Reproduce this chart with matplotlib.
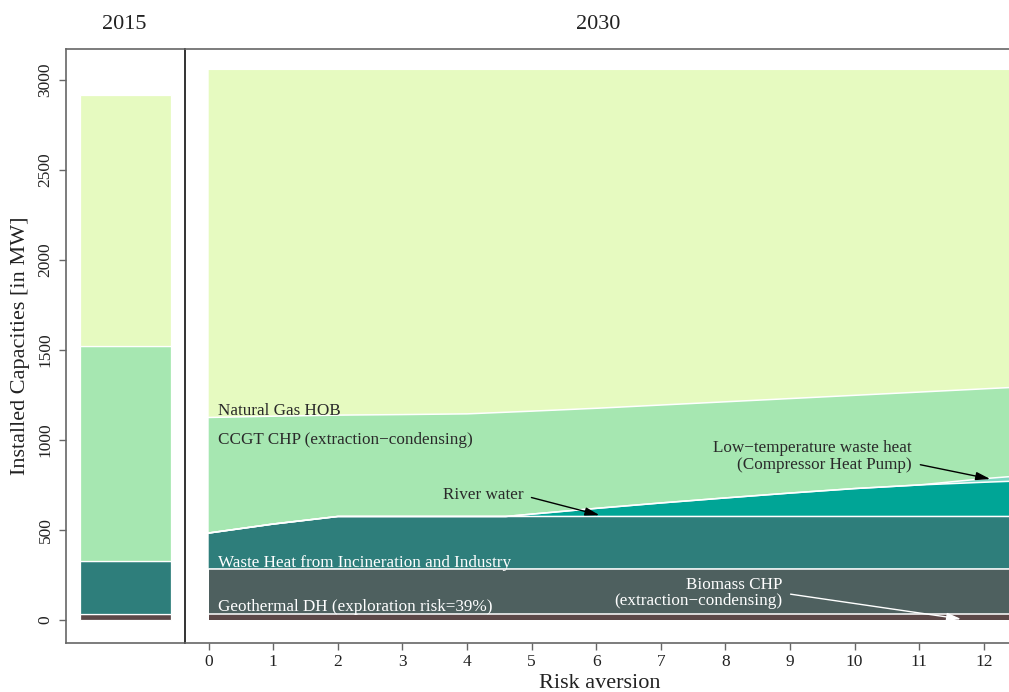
import numpy as np
import matplotlib.pyplot as plt

plt.rcParams['font.family'] = ['Liberation Serif', 'DejaVu Serif']

# Data (MW)
risk = [0, 1, 2, 3, 4, 4.6, 5, 6, 7, 8, 9, 10, 11, 12, 13]
biomass = [32] * 15
geothermal = [253] * 15
wasteheat = [198, 248, 290, 290, 290, 290, 290, 290, 290, 290, 290, 290, 290, 290, 290]
river = [0, 0, 0, 0, 0, 0, 13, 45, 75, 103, 130, 155, 175, 190, 203]
lowtemp = [0, 0, 0, 0, 0, 0, 0, 0, 0, 0, 0, 0, 0, 20, 35]
ccgt = [642, 599, 563, 566, 570, 579, 572, 556, 544, 534, 525, 518, 516, 499, 489]
ng_hob = [1930, 1923, 1917, 1914, 1910, 1901, 1895, 1879, 1861, 1843, 1825, 1807, 1789, 1771, 1753]

cap2015 = [35, 290, 1195, 1398]   # biomass, waste heat, CCGT, NG HOB
yticks = [0, 500, 1000, 1500, 2000, 2500, 3000]

c_bio = '#5c4848'
c_geo = '#4e605f'
c_waste = '#2e7e7b'
c_river = '#00a596'
c_low = '#7fd8c4'
c_ccgt = '#a6e7b1'
c_ng = '#e6fac0'

fig = plt.figure(figsize=(10.09, 6.92), dpi=100)
W, H = 1009, 692
bot, top = 643, 49
ax_l = fig.add_axes([66 / W, 1 - bot / H, (185 - 66) / W, (bot - top) / H])
ax_m = fig.add_axes([185 / W, 1 - bot / H, (1009 - 185) / W, (bot - top) / H])

ylim = (-128, 3172)

# 2015 column
bottom = 0
for v, c in zip(cap2015, [c_bio, c_waste, c_ccgt, c_ng]):
    ax_l.bar(0.5, v, width=0.765, bottom=bottom, color=c, edgecolor='white', linewidth=0.9)
    bottom += v
ax_l.set_xlim(0, 1)
ax_l.set_ylim(*ylim)
ax_l.set_xticks([])
ax_l.set_yticks(yticks)
ax_l.set_yticklabels([str(t) for t in yticks], rotation=90, va='center', fontsize=12.5, color='#222')
ax_l.tick_params(axis='y', length=5, width=1, color='#666', pad=4)
for s in ['left', 'top', 'bottom']:
    ax_l.spines[s].set_color('#666')
    ax_l.spines[s].set_linewidth(1.2)
ax_l.spines['right'].set_visible(False)

# 2030 stacked areas
layers = [biomass, geothermal, wasteheat, river, lowtemp, ccgt, ng_hob]
cols = [c_bio, c_geo, c_waste, c_river, c_low, c_ccgt, c_ng]
ax_m.stackplot(risk, layers, colors=cols, linewidth=0)
tops = np.cumsum(np.array(layers), axis=0)
for row in tops[:-1]:
    ax_m.plot(risk, row, color='white', lw=1.1)

ax_m.set_xlim(-0.367, 12.39)
ax_m.set_ylim(*ylim)
ax_m.set_yticks([])
ax_m.set_xticks(range(13))
ax_m.tick_params(axis='x', length=5, width=1, color='#666', labelsize=12.5, labelcolor='#222', pad=3)
ax_m.spines['right'].set_visible(False)
ax_m.spines['left'].set_color('#111')
ax_m.spines['left'].set_linewidth(1.2)
for s in ['top', 'bottom']:
    ax_m.spines[s].set_color('#666')
    ax_m.spines[s].set_linewidth(1.2)

# titles and axis labels
fig.text(124 / W, 1 - 29 / H, '2015', ha='center', va='baseline', fontsize=16, color='#222')
fig.text(598 / W, 1 - 29 / H, '2030', ha='center', va='baseline', fontsize=16, color='#222')
fig.text(600 / W, 1 - 688 / H, 'Risk aversion', ha='center', va='baseline', fontsize=16, color='#222')
fig.text(21 / W, 1 - 346 / H, 'Installed Capacities [in MW]', ha='center', va='center',
         rotation=90, fontsize=16, color='#222')

# labels
dark = '#2a2a2a'
ax_m.text(0.144, 1139, 'Natural Gas HOB', fontsize=12.3, color=dark, va='baseline')
ax_m.text(0.144, 978, 'CCGT CHP (extraction\u2212condensing)', fontsize=12.3, color=dark, va='baseline')
ax_m.text(0.144, 296, 'Waste Heat from Incineration and Industry', fontsize=12.3, color='white', va='baseline')
ax_m.text(0.144, 50, 'Geothermal DH (exploration risk=39%)', fontsize=12.3, color='white', va='baseline')

arrow_k = dict(arrowstyle='-|>,head_length=0.7,head_width=0.2', lw=1, shrinkB=0, shrinkA=4)
ax_m.annotate('River water', xy=(6.05, 582), xytext=(4.87, 692), fontsize=12.3, color=dark,
              ha='right', va='center',
              arrowprops=dict(color='black', relpos=(1, 0.5), **arrow_k))
ax_m.annotate('Low\u2212temperature waste heat\n(Compressor Heat Pump)', xy=(12.1, 783),
              xytext=(10.89, 908), fontsize=12.3, color=dark, ha='right', va='center',
              multialignment='right', linespacing=1.05,
              arrowprops=dict(color='black', relpos=(1, 0.3), **arrow_k))
ax_m.annotate('Biomass CHP\n(extraction\u2212condensing)', xy=(11.65, 5),
              xytext=(8.88, 150), fontsize=12.3, color='white', ha='right', va='center',
              multialignment='right', linespacing=1.05,
              arrowprops=dict(color='white', relpos=(1, 0.5), **arrow_k))

fig.savefig('out.png', dpi=100)
